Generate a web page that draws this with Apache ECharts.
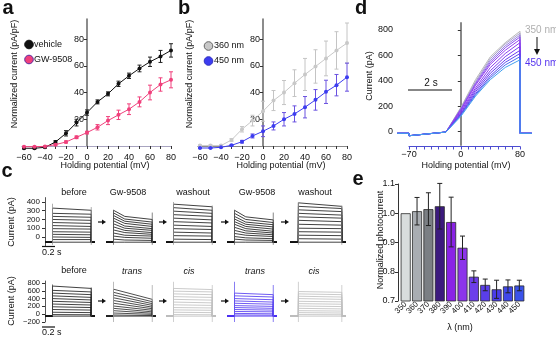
<!DOCTYPE html>
<html>
<head>
<meta charset="utf-8">
<script src="https://cdn.jsdelivr.net/npm/echarts@6/dist/echarts.min.js"></script>
<style>
html, body { margin: 0; padding: 0; background: #fff; }
#main { width: 556px; height: 338px; }
</style>
</head>
<body>
<div id="main"></div>
<script>
// ---------- panel a / b : I-V curves ----------
var mv = [-60, -50, -40, -30, -20, -10, 0, 10, 20, 30, 40, 50, 60, 70, 80];
var vehicle = [-1.7, -1.7, -1, 3, 9.5, 17.5, 25, 33, 39, 46.5, 52.5, 58, 63, 67, 71.5];
var vehicleErr = [0.5, 0.5, 0.5, 1, 2, 2.5, 2, 1.5, 1.5, 2, 2, 2.5, 3.5, 4.5, 5];
var gw9508 = [-0.5, -0.5, -0.3, 1, 3, 6.5, 10, 14, 19, 23.3, 27.5, 33, 40, 46, 49.5];
var gw9508Err = [0.3, 0.3, 0.3, 0.5, 0.8, 1, 1, 2, 3, 3.5, 4, 3.7, 5.5, 5, 6];
var nm360 = [0.3, 0.3, 0.3, 4.5, 12.5, 19, 26, 34, 40, 47, 53.5, 59.5, 65.5, 71.5, 77];
var nm360Err = [0.5, 0.5, 0.5, 1, 2, 4, 7.5, 7.5, 9, 10, 12, 12.5, 13, 14, 15];
var nm450 = [-1.5, -1.5, -1, 0.5, 3.2, 7.5, 11, 15, 20, 24, 29, 34.5, 40.5, 45.5, 51.5];
var nm450Err = [0.3, 0.3, 0.3, 0.5, 1, 1.5, 4, 3, 5, 6, 8, 7.7, 8.7, 8, 10.5];
var ivTicks = [20, 40, 60, 80];

// ---------- panel d : ramp currents, 350 -> 450 nm ----------
var dWaves = ['350', '360', '370', '380', '390', '400', '410', '420', '430', '440', '450'];
var dV = [-86, -70, -70, -20, 0, 20, 40, 60, 80, 80, 96];
var dPre = [-13, -13, -32, -3];
var dAt0 = [190, 185, 180, 175, 170, 160, 150, 140, 135, 128, 120];
var dAt20 = [410, 395, 385, 375, 365, 345, 330, 315, 300, 290, 280];
var dAt40 = [590, 575, 560, 545, 530, 505, 480, 460, 440, 425, 410];
var dAt60 = [700, 690, 675, 660, 640, 615, 590, 565, 545, 525, 505];
var dAt80 = [790, 775, 760, 745, 725, 700, 670, 640, 615, 590, 565];
var dPost = -13;

// ---------- panel c : step currents (pA), step on / mid / off ----------
var r1p1On = [-60, -30, 0, 30, 60, 95, 130, 165, 200, 235, 270, 330];
var r1p1Off = [-60, -30, -5, 25, 55, 90, 120, 155, 190, 225, 260, 305];
var r1p2On = [-60, -25, 10, 45, 80, 115, 150, 185, 215, 245, 275, 305];
var r1p2Mid = [-60, -35, -5, 20, 50, 75, 100, 125, 155, 180, 205, 235];
var r1p2Off = [-60, -40, -15, 10, 30, 50, 75, 95, 120, 145, 170, 200];
var r1p3On = [-60, -25, 15, 55, 95, 135, 175, 215, 255, 295, 335, 375];
var r1p3Off = [-60, -30, 10, 45, 85, 120, 160, 195, 235, 270, 305, 345];
var r1p4On = [-60, -25, 5, 40, 75, 110, 145, 175, 205, 235, 270, 305];
var r1p4Mid = [-60, -35, -10, 20, 45, 70, 95, 120, 145, 170, 200, 230];
var r1p4Off = [-60, -40, -20, 5, 25, 45, 65, 90, 115, 140, 165, 195];
var r1p5On = [-60, -20, 20, 60, 100, 145, 190, 230, 270, 310, 350, 390];
var r1p5Off = [-60, -25, 15, 55, 95, 135, 175, 215, 250, 290, 325, 350];
var r1SpikeHi = [380, 310, 400, 310, 400];
var r1Ticks = [0, 100, 200, 300, 400];

var r2p1On = [-50, -10, 50, 120, 190, 260, 330, 400, 470, 540, 610, 720];
var r2p1Off = [-50, -15, 40, 105, 170, 235, 300, 365, 430, 500, 570, 660];
var r2p2On = [-50, -20, 30, 90, 150, 210, 280, 350, 420, 490, 560, 640];
var r2p2Off = [-50, -35, -5, 25, 60, 100, 140, 180, 225, 270, 320, 380];
var r2p3On = [-50, -10, 50, 110, 170, 240, 310, 380, 450, 520, 590, 660];
var r2p3Off = [-50, -15, 40, 100, 160, 225, 290, 360, 430, 500, 570, 630];
var r2p4On = [-50, -20, 20, 70, 120, 170, 220, 280, 340, 400, 470, 540];
var r2p4Off = [-50, -25, 10, 60, 105, 150, 200, 255, 310, 370, 440, 500];
var r2p5On = [-50, -10, 40, 90, 150, 210, 270, 330, 400, 460, 520, 580];
var r2p5Off = [-50, -15, 30, 80, 135, 195, 255, 315, 380, 440, 500, 560];
var r2SpikeHi = [760, 830, 830, 830, 830];
var r2SpikeLo = [-60, -200, -200, -200, -200];
var r2Ticks = [-200, 0, 200, 400, 600, 800];
var cTimes = [0, 0.12, 0.3, 0.74, 0.8];

// ---------- panel e : normalized photocurrent ----------
var waveLabels = ['350', '360', '370', '380', '390', '400', '410', '420', '430', '440', '450'];
var photo = [1.0, 1.007, 1.014, 1.024, 0.97, 0.882, 0.783, 0.755, 0.74, 0.75, 0.753];
var photoErr = [0, 0.047, 0.056, 0.078, 0.085, 0.04, 0.02, 0.02, 0.031, 0.022, 0.018];

var FONT = 'Liberation Sans, Arial, sans-serif';
var dColors = ['#b8b8b8', '#aaa2cc', '#9a7ee0', '#8c52ee', '#9440f0', '#8a3cf0', '#7a3cf0', '#6a3cf0', '#5a48f0', '#4c6af0', '#44a0ee'];
var barColors = ['#d9dddd', '#a9adb2', '#7b7f84', '#3c1a7e', '#8a22e6', '#8c34ea', '#6c3eea', '#5a3eea', '#4a3cea', '#4048ea', '#3a52ea'];

function zip(xs, ys, es) {
	var out = [];
	for (var i = 0; i < xs.length; i++) {
		out.push(es ? [xs[i], ys[i], es[i]] : [xs[i], ys[i]]);
	}
	return out;
}

// error bar drawn through the axis scales
function errBar(color, cap) {
	return function(params, api) {
		var e = api.value(2);
		if (!e) return;
		var x = api.value(0), y = api.value(1);
		var hi = api.coord([x, y + e]);
		var lo = api.coord([x, y - e]);
		return {
			type: 'group',
			children: [
				{ type: 'line', shape: { x1: hi[0], y1: hi[1], x2: lo[0], y2: lo[1] }, style: { stroke: color, lineWidth: 1 } },
				{ type: 'line', shape: { x1: hi[0] - cap, y1: hi[1], x2: hi[0] + cap, y2: hi[1] }, style: { stroke: color, lineWidth: 1 } },
				{ type: 'line', shape: { x1: lo[0] - cap, y1: lo[1], x2: lo[0] + cap, y2: lo[1] }, style: { stroke: color, lineWidth: 1 } }
			]
		};
	};
}

function stepLines(on, mid, off, color, spikeHi, spikeLo, spikeColor) {
	var out = [];
	for (var i = 0; i < on.length; i++) {
		var base = on[0];
		var c = [[cTimes[0], base], [cTimes[1], base], [cTimes[1], on[i]]];
		if (mid) c.push([cTimes[2], mid[i]]);
		c.push([cTimes[3], off[i]], [cTimes[3], base], [cTimes[4], base]);
		out.push({ coords: c, lineStyle: { color: color } });
	}
	out.push({ coords: [[cTimes[1], spikeLo], [cTimes[1], spikeHi]], lineStyle: { color: spikeColor } });
	out.push({ coords: [[cTimes[3], spikeLo], [cTimes[3], spikeHi * 0.9]], lineStyle: { color: spikeColor } });
	return out;
}

var dLines = [];
for (var i = 0; i < dWaves.length; i++) {
	var vals = dPre.concat([dAt0[i], dAt20[i], dAt40[i], dAt60[i], dAt80[i], dPost, dPost]);
	dLines.push({ coords: zip(dV, vals), lineStyle: { color: dColors[i] } });
}

var minus = function(v) { return String(v).replace('-', '\u2212'); };
function lbl(size, extra) {
	var o = { margin: 3, fontSize: size, fontFamily: FONT, color: '#111', hideOverlap: false, showMinLabel: true, showMaxLabel: true };
	for (var k in extra) o[k] = extra[k];
	return o;
}

// ---------- grids ----------
// 0,1: a/b data   2: d data   3: d voltage axis   4-8: c row 1   9-13: c row 2   14: e   15,16: a/b y axes at 0 mV
var cLefts = [45, 106, 166, 227, 290];
var cWidths = [50, 50, 50, 50, 56];
var grids = [
	{ left: 21.9, top: 19, width: 149.1, height: 131 },
	{ left: 197.9, top: 19, width: 149.1, height: 131 },
	{ left: 397, top: 23, width: 135, height: 122 },
	{ left: 409, top: 23, width: 111, height: 123.5 }
];
for (var k = 0; k < 5; k++) grids.push({ left: cLefts[k], top: 197.6, width: cWidths[k], height: 48.1 });
for (var k = 0; k < 5; k++) grids.push({ left: cLefts[k], top: 281, width: cWidths[k], height: 41 });
grids.push({ left: 400, top: 184, width: 125, height: 117 });
grids.push({ left: 87, top: 19, width: 20, height: 127 });
grids.push({ left: 263, top: 19, width: 20, height: 127 });

function ivX(gi, lineColor) {
	return {
		gridIndex: gi, type: 'value', min: -62, max: 80,
		axisLine: { onZero: true, lineStyle: { color: lineColor, width: 1.2 } },
		axisTick: { customValues: [-60, -50, -40, -30, -20, -10, 0, 10, 20, 30, 40, 50, 60, 70, 80], length: 3, lineStyle: { color: '#333' } },
		axisLabel: lbl(9, { customValues: [-60, -40, -20, 0, 20, 40, 60, 80], formatter: minus }),
		splitLine: { show: false }
	};
}

var xAxes = [ivX(0, '#a8a4c0'), ivX(1, '#888'),
	{ gridIndex: 2, type: 'value', min: -86.2, max: 96.2, show: false },
	{
		gridIndex: 3, type: 'value', min: -70, max: 80, interval: 10,
		axisLine: { onZero: false, lineStyle: { color: '#4c4cd0', width: 1.2 } },
		axisTick: { length: 3, lineStyle: { color: '#4c4cd0' } },
		axisLabel: lbl(9, { margin: 4, formatter: function(v) { return (v === -70 || v === 0 || v === 80) ? minus(v) : ''; } }),
		splitLine: { show: false }
	}];
var yAxes = [
	{ gridIndex: 0, type: 'value', min: -3, max: 95, show: false },
	{ gridIndex: 1, type: 'value', min: -3, max: 95, show: false },
	{
		gridIndex: 2, type: 'value', min: -105, max: 855,
		axisLine: { lineStyle: { color: '#888', width: 2 } },
		axisTick: { customValues: [0, 200, 400, 600, 800], length: 3, lineStyle: { color: '#333' } },
		axisLabel: lbl(9, { margin: 4, customValues: [0, 200, 400, 600, 800] }),
		splitLine: { show: false }
	},
	{ gridIndex: 3, type: 'value', min: -105, max: 855, show: false }];

for (var r = 0; r < 2; r++) {
	for (var k = 0; k < 5; k++) {
		var gi = 4 + r * 5 + k;
		var ticks = r === 0 ? r1Ticks : r2Ticks;
		xAxes.push({ gridIndex: gi, type: 'value', min: 0, max: 0.8, show: false });
		yAxes.push({
			gridIndex: gi, type: 'value',
			min: r === 0 ? -100 : -200, max: r === 0 ? 450 : 850,
			show: k === 0, offset: 3,
			axisLine: { show: true, lineStyle: { color: '#555', width: 1 } },
			axisTick: { customValues: ticks, length: 3, lineStyle: { color: '#333' } },
			axisLabel: lbl(r === 0 ? 8 : 7.5, { margin: 2, customValues: ticks, formatter: minus, lineHeight: 8 }),
			splitLine: { show: false }
		});
	}
}
xAxes.push({
	gridIndex: 14, type: 'category', data: waveLabels,
	axisLine: { show: false }, axisTick: { show: false },
	axisLabel: lbl(8, { rotate: 45, interval: 0, margin: 2 })
});
yAxes.push({
	gridIndex: 14, type: 'value', min: 0.7, max: 1.1, interval: 0.1, offset: 2,
	axisLine: { show: true, lineStyle: { color: '#333', width: 1 } },
	axisTick: { show: true, length: 3, lineStyle: { color: '#333' } },
	axisLabel: lbl(9, { formatter: function(v) { return v.toFixed(1); } }),
	splitLine: { show: false }
});
// y axes of a and b, drawn at 0 mV
[15, 16].forEach(function(gi) {
	xAxes.push({ gridIndex: gi, type: 'value', min: 0, max: 1, show: false });
	yAxes.push({
		gridIndex: gi, type: 'value', min: 0, max: 95,
		axisLine: { show: true, lineStyle: { color: '#666', width: 1.5 } },
		axisTick: { customValues: ivTicks, length: 3, lineStyle: { color: '#333' } },
		axisLabel: lbl(9, { customValues: ivTicks }),
		splitLine: { show: false }
	});
});

function ivLine(name, xi, data, color) {
	return {
		name: name, type: 'line', xAxisIndex: xi, yAxisIndex: xi, data: data, z: 5,
		symbol: 'circle', symbolSize: 4,
		lineStyle: { color: color, width: 1 },
		itemStyle: { color: color }
	};
}
function ivErr(xi, data, color) {
	return {
		type: 'custom', xAxisIndex: xi, yAxisIndex: xi, data: data, z: 4,
		renderItem: errBar(color, 2), encode: { x: 0, y: 1 }
	};
}

var series = [
	ivErr(0, zip(mv, vehicle, vehicleErr), '#222'),
	ivLine('vehicle', 0, zip(mv, vehicle), '#111'),
	ivErr(0, zip(mv, gw9508, gw9508Err), '#f0407c'),
	ivLine('GW-9508', 0, zip(mv, gw9508), '#f0407c'),
	ivErr(1, zip(mv, nm360, nm360Err), '#c4c4c4'),
	ivLine('360 nm', 1, zip(mv, nm360), '#c8c8c8'),
	ivErr(1, zip(mv, nm450, nm450Err), '#6a52e0'),
	ivLine('450 nm', 1, zip(mv, nm450), '#3c3cf0'),
	{
		type: 'lines', coordinateSystem: 'cartesian2d', xAxisIndex: 2, yAxisIndex: 2,
		polyline: true, lineStyle: { width: 1, opacity: 1 }, data: dLines
	}
];

var cSets = [
	[r1p1On, null, r1p1Off, '#111', r1SpikeHi[0], -90, '#999'],
	[r1p2On, r1p2Mid, r1p2Off, '#111', r1SpikeHi[1], -90, '#666'],
	[r1p3On, null, r1p3Off, '#111', r1SpikeHi[2], -90, '#999'],
	[r1p4On, r1p4Mid, r1p4Off, '#111', r1SpikeHi[3], -90, '#666'],
	[r1p5On, null, r1p5Off, '#111', r1SpikeHi[4], -90, '#999'],
	[r2p1On, null, r2p1Off, '#111', r2SpikeHi[0], r2SpikeLo[0], '#444'],
	[r2p2On, null, r2p2Off, '#222', r2SpikeHi[1], r2SpikeLo[1], '#aaa'],
	[r2p3On, null, r2p3Off, '#bdbdbd', r2SpikeHi[2], r2SpikeLo[2], '#c4c4c4'],
	[r2p4On, null, r2p4Off, '#4a30f0', r2SpikeHi[3], r2SpikeLo[3], '#6a5cf0'],
	[r2p5On, null, r2p5Off, '#bdbdbd', r2SpikeHi[4], r2SpikeLo[4], '#c4c4c4']
];
cSets.forEach(function(s, k) {
	series.push({
		type: 'lines', coordinateSystem: 'cartesian2d', xAxisIndex: 4 + k, yAxisIndex: 4 + k,
		polyline: true, lineStyle: { width: 0.8, opacity: 1 },
		data: stepLines(s[0], s[1], s[2], s[3], s[4], s[5], s[6])
	});
});

series.push({
	type: 'bar', xAxisIndex: 14, yAxisIndex: 14, barWidth: 10,
	data: photo.map(function(v, i) {
		return { value: v, itemStyle: { color: barColors[i], borderColor: '#2a2a2a', borderWidth: 0.8 } };
	})
});
series.push({
	type: 'custom', xAxisIndex: 14, yAxisIndex: 14, z: 5,
	data: photo.map(function(v, i) { return [i, v, photoErr[i]]; }),
	renderItem: errBar('#222', 2.5), encode: { x: 0, y: 1 }
});

// ---------- annotations ----------
function txt(x, y, s, opt) {
	opt = opt || {};
	return {
		type: 'text', x: x, y: y, rotation: opt.rot || 0, z: 10,
		style: {
			text: s, fill: opt.color || '#111',
			font: (opt.font || '9px') + ' ' + FONT,
			textAlign: opt.align || 'center', textVerticalAlign: 'middle'
		}
	};
}
function hline(x1, x2, y, color) {
	return { type: 'line', z: 10, shape: { x1: x1, y1: y, x2: x2, y2: y }, style: { stroke: color || '#111', lineWidth: 1.2 } };
}
function arrowR(x, y) {
	return {
		type: 'group', z: 10, children: [
			hline(x, x + 5, y, '#111'),
			{ type: 'polygon', shape: { points: [[x + 4, y - 2.5], [x + 8, y], [x + 4, y + 2.5]] }, style: { fill: '#111' } }
		]
	};
}
function dot(x, y, fill, stroke) {
	return { type: 'circle', z: 10, shape: { cx: x, cy: y, r: 4.3 }, style: { fill: fill, stroke: stroke, lineWidth: 1 } };
}

var graphics = [
	txt(8, 8, 'a', { font: 'bold 20px' }),
	txt(184, 8, 'b', { font: 'bold 20px' }),
	txt(7, 171, 'c', { font: 'bold 20px' }),
	txt(361, 8, 'd', { font: 'bold 20px' }),
	txt(358, 179, 'e', { font: 'bold 20px' }),
	txt(15, 74, 'Normalized current (pA/pF)', { rot: Math.PI / 2 }),
	txt(190, 74, 'Normalized current (pA/pF)', { rot: Math.PI / 2 }),
	txt(105, 166, 'Holding potential (mV)'),
	txt(281, 166, 'Holding potential (mV)'),
	dot(29, 44.5, '#111', '#111'), txt(34, 44.5, 'vehicle', { align: 'left' }),
	dot(29, 59.5, '#f0407c', '#5a2aa0'), txt(34, 59.5, 'GW-9508', { align: 'left' }),
	dot(208.5, 46, '#c8c8c8', '#666'), txt(214, 46, '360 nm', { align: 'left' }),
	dot(208.5, 61, '#3c3cf0', '#3030c0'), txt(214, 61, '450 nm', { align: 'left' }),
	txt(370, 76, 'Current (pA)', { rot: Math.PI / 2 }),
	txt(466, 166, 'Holding potential (mV)'),
	hline(408, 452, 90), txt(431, 83, '2 s', { font: '10px' }),
	txt(525, 30, '350 nm', { align: 'left', color: '#b0b0b0', font: '10px' }),
	txt(525, 63, '450 nm', { align: 'left', color: '#5533ee', font: '10px' }),
	{ type: 'line', z: 10, shape: { x1: 537, y1: 37, x2: 537, y2: 50 }, style: { stroke: '#111', lineWidth: 1 } },
	{ type: 'polygon', z: 10, shape: { points: [[534, 49], [540, 49], [537, 55]] }, style: { fill: '#111' } },
	txt(12, 222, 'Current (pA)', { rot: Math.PI / 2 }),
	txt(12, 301, 'Current (pA)', { rot: Math.PI / 2 }),
	hline(42, 55, 246.5), txt(42, 253, '0.2 s', { align: 'left' }),
	hline(42, 55, 327), txt(42, 333, '0.2 s', { align: 'left' }),
	txt(381, 240, 'Normalized photocurrent', { rot: Math.PI / 2 }),
	txt(460, 328, '\u03bb (nm)')
];
var r1Titles = ['before', 'Gw-9508', 'washout', 'Gw-9508', 'washout'];
var r1TitleX = [74, 128, 193, 257, 315];
var r2Titles = ['before', 'trans', 'cis', 'trans', 'cis'];
var r2TitleX = [74, 132, 189, 255, 314];
for (var k = 0; k < 5; k++) {
	graphics.push(txt(r1TitleX[k], 193, r1Titles[k]));
	graphics.push(txt(r2TitleX[k], 271, r2Titles[k], { font: k === 0 ? '9px' : 'italic 9px' }));
}
[98, 159, 221, 281].forEach(function(x) {
	graphics.push(arrowR(x, 222));
	graphics.push(arrowR(x, 301));
});

var chart = echarts.init(document.getElementById('main'), null, { renderer: 'canvas' });
chart.setOption({
	animation: false,
	backgroundColor: '#fff',
	textStyle: { fontFamily: FONT },
	grid: grids,
	xAxis: xAxes,
	yAxis: yAxes,
	series: series,
	graphic: graphics
});
</script>
</body>
</html>
